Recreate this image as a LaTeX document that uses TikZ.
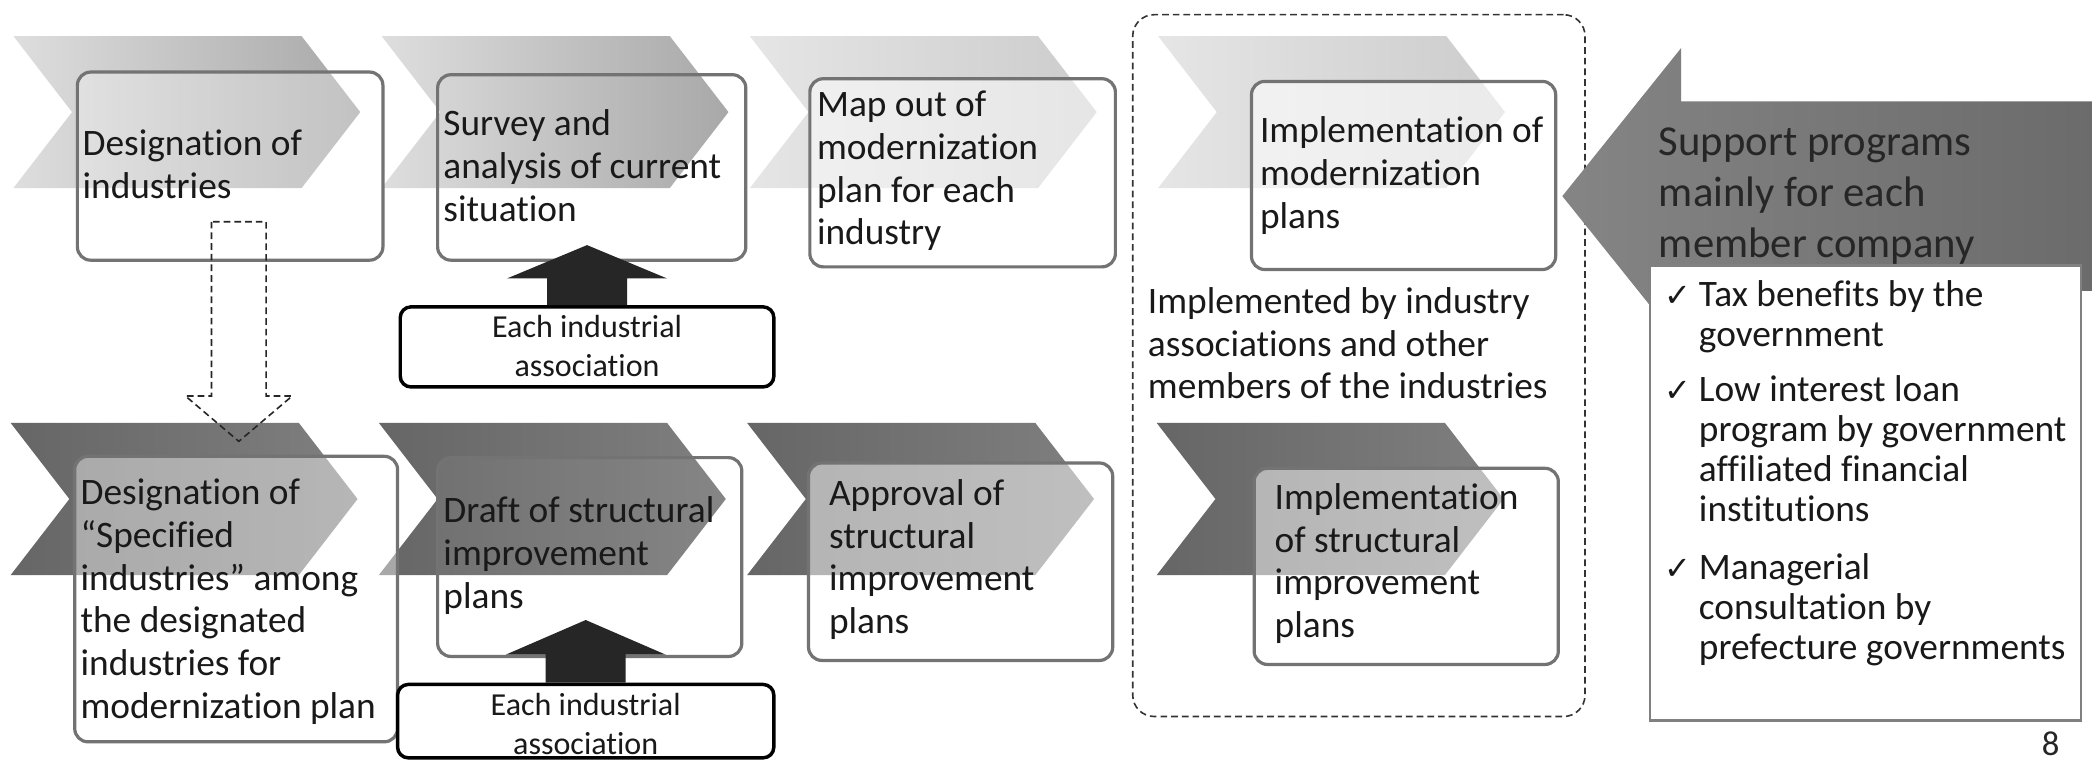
\documentclass[tikz,border=0pt]{standalone}
\usepackage{fontspec}
\setmainfont{Carlito}[Ligatures={NoCommon}]
\newfontfamily\symfont{DejaVu Sans}
\usetikzlibrary{calc}
\newcommand\lines[1]{\begin{tabular}{@{}l@{}}#1\end{tabular}}
\newcommand\clines[1]{\begin{tabular}{@{}c@{}}#1\end{tabular}}
\newcommand\tlines[1]{\begin{tabular}[t]{@{}l@{}}#1\end{tabular}}
\newcommand\chevron[3]{\path[#1] (#2,#3) -- ++(216,0) -- ++(44,57) -- ++(-44,57) -- ++(-216,0) -- ++(44,-57) -- cycle;}
\begin{document}
\begin{tikzpicture}[x=0.5pt,y=-0.5pt,
  chevA/.style={left color=black!13, right color=black!34},
  chevB/.style={left color=black!10, right color=black!20},
  chevC/.style={left color=black!60, right color=black!50},
  box/.style={draw=black!55, line width=1.2pt, rounded corners=5pt, fill=white, inner sep=0pt},
  txt/.style={anchor=west, inner sep=0pt, font=\fontsize{14}{16}\selectfont, text=black!90},
  assoc/.style={draw=black, line width=1.3pt, rounded corners=4pt, fill=white, inner sep=0pt},
  atxt/.style={inner sep=0pt, font=\fontsize{12}{14.5}\selectfont, text=black!90},
  blockup/.style={fill=black!85},
  dasharrow/.style={draw=black!85, line width=0.6pt, dash pattern=on 2.5pt off 1.5pt},
  container/.style={draw=black!80, line width=0.6pt, dash pattern=on 2.5pt off 1.5pt, rounded corners=8pt, inner sep=0pt},
  bigarrow/.style={left color=black!48, right color=black!58},
  listbox/.style={draw=black!50, line width=0.8pt, fill=white, inner sep=0pt},
  ltxt/.style={anchor=base west, inner sep=0pt, font=\fontsize{14}{15}\selectfont, text=black!90},
  chk/.style={anchor=base west, inner sep=0pt, font=\symfont\fontsize{12}{14}\selectfont, text=black!90},
  suptxt/.style={anchor=west, inner sep=0pt, font=\fontsize{16}{19.25}\selectfont, text=black!85}
]
\useasboundingbox (0,0) rectangle (1568,570);
\fill[white] (0,0) rectangle (1568,570);

% chevrons
\chevron{chevA}{10}{27}
\chevron{chevA}{286}{27}
\chevron{chevB}{562}{27}
\chevron{chevB}{868}{27}
\chevron{chevC}{8}{317}
\chevron{chevC}{284}{317}
\chevron{chevC}{560}{317}
\chevron{chevC}{867}{317}

% boxes
\node[box, fill opacity=0.3, minimum width=114.5pt, minimum height=70.5pt] (b1) at (172.5,124.5) {};
\node[box, fill opacity=0.0, minimum width=115.5pt, minimum height=69.5pt] (b2) at (443.5,125.5) {};
\node[box, fill opacity=0.5, minimum width=114.5pt, minimum height=70.5pt] (b3) at (721.5,129.5) {};
\node[box, fill opacity=0.6, minimum width=114pt, minimum height=70.5pt] (b4) at (1052,131.5) {};
\node[box, fill opacity=0.43, minimum width=121pt, minimum height=107pt] (b5) at (177,449) {};
\node[box, fill opacity=0.05, minimum width=114pt, minimum height=74.5pt] (b6) at (442,417.5) {};
\node[box, fill opacity=0.5, minimum width=114pt, minimum height=74pt] (b7) at (720,421) {};
\node[box, fill opacity=0.5, minimum width=114pt, minimum height=73.5pt] (b8) at (1054,424.5) {};

% box texts
\node[txt] (t1) at (61.5,126) {\lines{Designation of\\industries}};
\node[txt] (t2) at (332,127.5) {\lines{Survey and\\analysis of current\\situation}};
\node[txt] (t3) at (612,129) {\lines{Map out of\\modernization\\plan for each\\industry}};
\node[txt] (t4) at (944,132.5) {\lines{Implementation of\\modernization\\plans}};
\node[txt] (t5) at (60,452) {\lines{Designation of\\“Specified\\industries” among\\the designated\\industries for\\modernization plan}};
\node[txt] (t6) at (332,417.5) {\lines{Draft of structural\\improvement\\plans}};
\node[txt] (t7) at (621,420.5) {\lines{Approval of\\structural\\improvement\\plans}};
\node[txt] (t8) at (955,423.5) {\lines{Implementation\\of structural\\improvement\\plans}};

% dashed hollow arrow from b1 to b5
\coordinate (dtop) at ($(b1.south)+(6.5,-30)$);
\coordinate (dtip) at ($(b5.north)+(2,-10)$);
\draw[dasharrow] ($(dtop)+(-10.25pt,0)$) -- ($(dtip)+(-10.25pt,17pt)$) -- ($(dtip)+(-20pt,17pt)$) -- (dtip)
  -- ($(dtip)+(20pt,17pt)$) -- ($(dtip)+(10.25pt,17pt)$) -- ($(dtop)+(10.25pt,0)$) -- cycle;

% association boxes
\node[assoc, minimum width=140pt, minimum height=30pt] (a1) at (440,260) {};
\node[atxt] (a1t) at (440,261.7) {\clines{Each industrial\\association}};
\node[assoc, minimum width=141pt, minimum height=27.5pt] (a2) at (439,540.5) {};
\node[atxt] (a2t) at (439,545) {\clines{Each industrial\\association}};

% block arrows up
\fill[blockup] ($(a1.north)+(-15pt,0)$) -- ($(a1.north)+(-15pt,10pt)$) -- ($(a1.north)+(-30pt,10pt)$) -- ($(a1.north)+(0,22.5pt)$)
  -- ($(a1.north)+(30pt,10pt)$) -- ($(a1.north)+(15pt,10pt)$) -- ($(a1.north)+(15pt,0)$) -- cycle;
\fill[blockup] ($(a2.north)+(-15pt,0)$) -- ($(a2.north)+(-15pt,10.5pt)$) -- ($(a2.north)+(-30pt,10.5pt)$) -- ($(a2.north)+(0,23.5pt)$)
  -- ($(a2.north)+(30pt,10.5pt)$) -- ($(a2.north)+(15pt,10.5pt)$) -- ($(a2.north)+(15pt,0)$) -- cycle;

% dashed container
\node[container, minimum width=169.5pt, minimum height=263pt] (grp) at (1018.5,274) {};
\node[txt] (imp) at (860,260.5) {\lines{Implemented by industry\\associations and other\\members of the industries}};

% big support arrow
\path[bigarrow] (1570,76) -- (1260,76) -- (1260,36) -- (1171,147) -- (1260,258) -- (1260,218) -- (1570,218) -- cycle;
\node[suptxt] (sup) at (1243,147) {\lines{Support programs\\mainly for each\\member company}};

% list box
\node[listbox, minimum width=161.5pt, minimum height=170.5pt] (lst) at (1398.5,369.5) {};
\node[chk] (c1) at (1247,230) {✓};
\node[ltxt] (i1) at (1273,230) {\tlines{Tax benefits by the\\government}};
\node[chk] (c2) at (1247,301) {✓};
\node[ltxt] (i2) at (1273,301) {\tlines{Low interest loan\\program by government\\affiliated financial\\institutions}};
\node[chk] (c3) at (1247,434) {✓};
\node[ltxt] (i3) at (1273,434) {\tlines{Managerial\\consultation by\\prefecture governments}};

% page number
\node[anchor=base, inner sep=0pt, font=\fontsize{13}{15}\selectfont, text=black!85] (pg) at (1537,566) {8};
\end{tikzpicture}
\end{document}
